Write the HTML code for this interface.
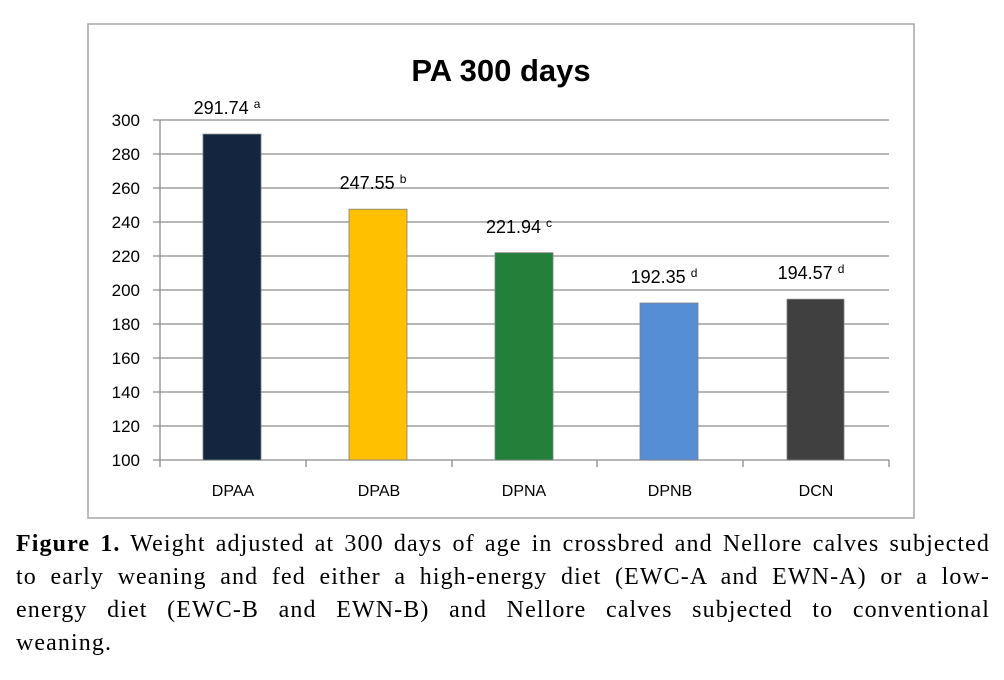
<!DOCTYPE html>
<html><head><style>
body{margin:0;width:1004px;height:680px;background:#fff;overflow:hidden;position:relative}
svg{position:absolute;left:0;top:0}
.cap{position:absolute;left:16px;top:528px;width:974px;font-family:"Liberation Serif",serif;font-size:24px;line-height:33px;color:#000;letter-spacing:1.1px}
.cap div{text-align:justify;text-align-last:justify;white-space:nowrap}
.cap div.l{text-align-last:left}
</style></head><body>
<svg width="1004" height="530" font-family="Liberation Sans, sans-serif">
<rect x="88" y="24" width="826" height="494" fill="#fff" stroke="#a6a6a6" stroke-width="1.5"/>
<text x="501" y="81" text-anchor="middle" font-size="31" font-weight="bold">PA 300 days</text>
<g stroke="#8c8c8c" stroke-width="1.3">
<line x1="153" y1="120" x2="889" y2="120"/>
<line x1="153" y1="154" x2="889" y2="154"/>
<line x1="153" y1="188" x2="889" y2="188"/>
<line x1="153" y1="222" x2="889" y2="222"/>
<line x1="153" y1="256" x2="889" y2="256"/>
<line x1="153" y1="290" x2="889" y2="290"/>
<line x1="153" y1="324" x2="889" y2="324"/>
<line x1="153" y1="358" x2="889" y2="358"/>
<line x1="153" y1="392" x2="889" y2="392"/>
<line x1="153" y1="426" x2="889" y2="426"/>
<line x1="153" y1="460" x2="889" y2="460"/>
<line x1="160" y1="120" x2="160" y2="460"/>
<line x1="160" y1="460" x2="160" y2="467"/>
<line x1="306" y1="460" x2="306" y2="467"/>
<line x1="452" y1="460" x2="452" y2="467"/>
<line x1="597" y1="460" x2="597" y2="467"/>
<line x1="743" y1="460" x2="743" y2="467"/>
<line x1="889" y1="460" x2="889" y2="467"/>
</g>
<g font-size="17" text-anchor="end" fill="#000">
<text x="140" y="126">300</text><text x="140" y="160">280</text><text x="140" y="194">260</text>
<text x="140" y="228">240</text><text x="140" y="262">220</text><text x="140" y="296">200</text>
<text x="140" y="330">180</text><text x="140" y="364">160</text><text x="140" y="398">140</text>
<text x="140" y="432">120</text><text x="140" y="466">100</text>
</g>
<g stroke="#7f7f7f" stroke-width="0.8">
<rect x="203" y="134.1" width="58" height="325.9" fill="#14263f"/>
<rect x="349" y="209.2" width="58" height="250.8" fill="#ffc000"/>
<rect x="495" y="252.7" width="58" height="207.3" fill="#23803a"/>
<rect x="640" y="303.0" width="58" height="157" fill="#558ed5"/>
<rect x="787" y="299.2" width="57" height="160.8" fill="#404040"/>
</g>
<g font-size="18" text-anchor="middle">
<text x="227" y="114">291.74 <tspan font-size="12" dy="-6">a</tspan></text>
<text x="373" y="189">247.55 <tspan font-size="12" dy="-6">b</tspan></text>
<text x="519" y="233">221.94 <tspan font-size="12" dy="-6">c</tspan></text>
<text x="664" y="283">192.35 <tspan font-size="12" dy="-6">d</tspan></text>
<text x="811" y="279">194.57 <tspan font-size="12" dy="-6">d</tspan></text>
</g>
<g font-size="16" text-anchor="middle">
<text x="233" y="496">DPAA</text><text x="379" y="496">DPAB</text><text x="524" y="496">DPNA</text>
<text x="670" y="496">DPNB</text><text x="816" y="496">DCN</text>
</g>
</svg>
<div class="cap">
<div><b>Figure 1.</b> Weight adjusted at 300 days of age in crossbred and Nellore calves subjected</div>
<div>to early weaning and fed either a high-energy diet (EWC-A and EWN-A) or a low-</div>
<div>energy diet (EWC-B and EWN-B) and Nellore calves subjected to conventional</div>
<div class="l">weaning.</div>
</div>
</body></html>
